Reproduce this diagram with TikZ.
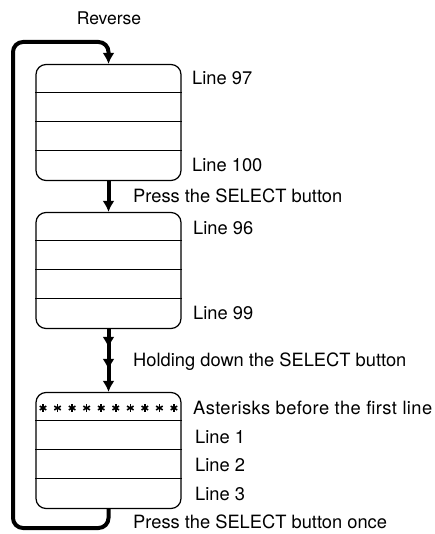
\documentclass[tikz,border=0pt]{standalone}
\usepackage{fontspec}
\setmainfont{TeX Gyre Heros}
\usetikzlibrary{arrows.meta}
\begin{document}
\begin{tikzpicture}[x=1pt,y=-1pt,
  scr/.style={draw, line width=1.2pt, rounded corners=10pt, minimum width=145pt, minimum height=116pt, inner sep=0pt},
  rowline/.style={line width=1.1pt},
  flow/.style={line width=4pt},
  onehead/.style={-{Latex[length=11pt,width=12pt]}},
  threehead/.style={-{Latex[length=11pt,width=12pt,sep=11pt] Latex[length=11pt,width=12pt,sep=11pt] Latex[length=11pt,width=12pt]}},
  lbl/.style={anchor=base west, inner sep=0pt, font=\fontsize{18.3}{20}\selectfont}
]
\useasboundingbox (0,0) rectangle (434,534);
% screens
\node[scr] (b1) at (108.5,122.5) {};
\node[scr] (b2) at (108.5,270.5) {};
\node[scr] (b3) at (108.5,450.5) {};
\foreach \b in {b1,b2,b3}{
  \foreach \d in {29,58,87}{
    \draw[rowline] ([yshift=-\d pt]\b.north west) -- ([yshift=-\d pt]\b.north east);
  }
}
% asterisks
\foreach \i in {0,...,9}{
  \foreach \a in {90,30,-30}{
    \draw[line width=1.6pt] ({43+14.55*\i},408) ++(\a:3.8) -- ++(\a+180:7.6);
  }
}
% connectors
\coordinate (lb) at (13,528);
\coordinate (lt) at (13,42);
\draw[flow,onehead] (b1.south) -- (b2.north);
\draw[flow,threehead] (b2.south) -- (b3.north);
\draw[flow,rounded corners=10pt,onehead] (b3.south) |- (lb) -- (lt) -| (b1.north);
% labels
\node[lbl,anchor=base,font=\fontsize{17.5}{20}\selectfont] (rev) at (109,25) {Reverse};
\node[lbl] (l97) at (192,85) {Line 97};
\node[lbl] (l100) at (192,172) {Line 100};
\node[lbl] (p1) at (133,203) {Press the SELECT button};
\node[lbl] (l96) at (193,234) {Line 96};
\node[lbl] (l99) at (193,319) {Line 99};
\node[lbl] (hold) at (133,366) {Holding down the SELECT button};
\node[lbl,font=\fontsize{18.3}{20}\selectfont\addfontfeature{LetterSpace=2.2}] (ast) at (193,414) {Asterisks before the first line};
\node[lbl] (l1) at (195,443) {Line 1};
\node[lbl] (l2) at (195,471) {Line 2};
\node[lbl] (l3) at (195,500) {Line 3};
\node[lbl] (p2) at (133,528) {Press the SELECT button once};
\end{tikzpicture}
\end{document}
